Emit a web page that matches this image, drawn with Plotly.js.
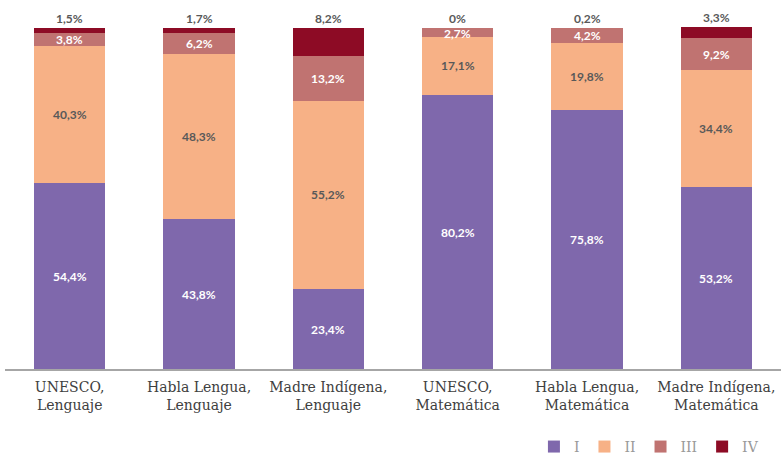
<!DOCTYPE html>
<html><head><meta charset="utf-8">
<script src="https://cdn.plot.ly/plotly-3.0.1.min.js"></script>
<style>html,body{margin:0;padding:0;background:#fff;}#chart{width:781px;height:457px;}</style>
</head><body><div id="chart"></div>
<script>
const categories = ["UNESCO,<br>Lenguaje","Habla Lengua,<br>Lenguaje","Madre Indígena,<br>Lenguaje","UNESCO,<br>Matemática","Habla Lengua,<br>Matemática","Madre Indígena,<br>Matemática"];
const seriesNames = ["I","II","III","IV"];
const valuesI = [54.4, 43.8, 23.4, 80.2, 75.8, 53.2];
const valuesII = [40.3, 48.3, 55.2, 17.1, 19.8, 34.4];
const valuesIII = [3.8, 6.2, 13.2, 2.7, 4.2, 9.2];
const valuesIV = [1.5, 1.7, 8.2, 0, 0.2, 3.3];

const colors = ["#7F68AC", "#F7B186", "#C07371", "#8D0B25"];
const textColors = ["#ffffff", "#595959", "#ffffff", "#595959"];
const fmt = v => v === 0 ? "0%" : v.toFixed(1).replace(".", ",") + "%";
const allValues = [valuesI, valuesII, valuesIII, valuesIV];

const traces = allValues.map((vals, i) => ({
  type: "bar",
  name: seriesNames[i],
  x: categories,
  y: vals,
  marker: {color: colors[i], line: {width: 0}},
  hoverinfo: "none"
}));

const annotations = [];
categories.forEach((c, j) => {
  let base = 0;
  allValues.forEach((vals, i) => {
    const v = vals[j];
    const isTop = i === allValues.length - 1;
    annotations.push({
      x: c, y: isTop ? base + v : base + v / 2,
      xref: "x", yref: "y",
      text: fmt(v), showarrow: false,
      yanchor: isTop ? "bottom" : "middle",
      yshift: isTop ? 0 : (v < 3 ? -1 : 0),
      font: {family: "Lato, sans-serif", size: 12, color: textColors[i], weight: 700}
    });
    base += v;
  });
});

const layout = {
  width: 781, height: 457,
  margin: {l: 5, r: 0, t: 27, b: 88, autoexpand: false},
  barmode: "stack",
  bargap: 0.45,
  showlegend: true,
  annotations: annotations,
  legend: {orientation: "h", x: 0.978, xanchor: "right", yref: "container", y: 0.022, yanchor: "middle",
    font: {family: "DejaVu Serif, serif", size: 14, color: "#999999"},
    traceorder: "normal", itemwidth: 30},
  xaxis: {showline: true, linecolor: "#a6a6a6", linewidth: 2, ticks: "", showgrid: false,
    automargin: false, ticklabelstandoff: 4,
    tickfont: {family: "DejaVu Serif, serif", size: 14, color: "#404040"}},
  yaxis: {range: [0, 100.15], visible: false, showgrid: false, zeroline: false, automargin: false},
  paper_bgcolor: "#ffffff", plot_bgcolor: "#ffffff"
};
Plotly.newPlot("chart", traces, layout, {displayModeBar: false, staticPlot: true});
</script></body></html>
